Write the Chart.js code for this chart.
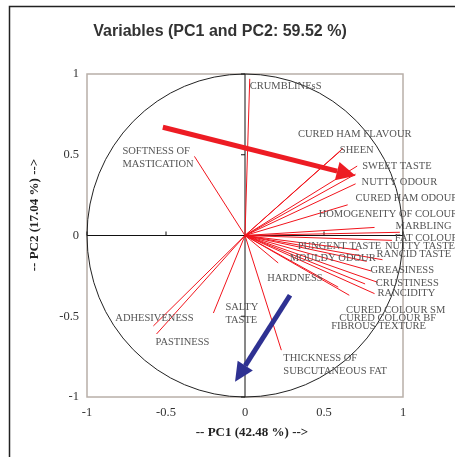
<!DOCTYPE html>
<html>
<head>
<meta charset="utf-8">
<script src="https://cdn.jsdelivr.net/npm/chart.js@4.4.1/dist/chart.umd.min.js"></script>
<style>
  html, body { margin: 0; padding: 0; background: #fff; }
</style>
</head>
<body>
<canvas id="pcaChart" width="455" height="457"></canvas>
<script>
// variables of the correlation circle
const variables = [
  'CRUMBLINEsS', 'SOFTNESS OF\nMASTICATION', 'CURED HAM FLAVOUR', 'SHEEN',
  'SWEET TASTE', 'NUTTY ODOUR', 'CURED HAM ODOUR', 'HOMOGENEITY OF COLOUR',
  'MARBLING', 'FAT COLOUR', 'NUTTY TASTE', 'PUNGENT TASTE', 'RANCID TASTE',
  'MOULDY ODOUR', 'GREASINESS', 'CRUSTINESS', 'RANCIDITY', 'CURED COLOUR SM',
  'CURED COLOUR BF', 'FIBROUS TEXTURE', 'HARDNESS', 'THICKNESS OF\nSUBCUTANEOUS FAT',
  'SALTY\nTASTE', 'ADHESIVENESS', 'PASTINESS'
];
const pc1 = [
  0.03, -0.32, 0.62, 0.60,
  0.71, 0.70, 0.70, 0.65,
  0.82, 0.98, 0.93, 0.72, 0.87,
  0.77, 0.80, 0.84, 0.82, 0.76,
  0.66, 0.59, 0.21, 0.23,
  -0.20, -0.58, -0.56
];
const pc2 = [
  0.97, 0.49, 0.54, 0.52,
  0.43, 0.38, 0.32, 0.19,
  0.05, 0.02, -0.03, -0.09, -0.15,
  -0.16, -0.22, -0.29, -0.36, -0.30,
  -0.37, -0.32, -0.17, -0.71,
  -0.48, -0.56, -0.61
];
const axisTicks = [-1, -0.5, 0, 0.5, 1];

// annotation arrows (PC1, PC2 of start and tip)
const redArrow = [[-0.52, 0.67], [0.70, 0.37]];
const blueArrow = [[0.285, -0.37], [-0.063, -0.905]];

// label placement, pixel offset from the end of each vector
const labelOffset = [
  [0, 7], [-72, -5], [-45, -14], [0, -1],
  [5, 0], [6, 8], [0, 14], [-29, 9],
  [21, -1], [-5, 6], [-7, 6], [-61, -4], [-6, -5],
  [-77, -3], [-1, -1], [-2, 1], [3, 0], [-19, 26],
  [-10, 23], [-7, 39], [-11, 15], [2, 8],
  [12, -6], [-38, -8], [-1, 8]
];

const datasets = variables.map((name, i) => ({
  label: name,
  data: [{ x: 0, y: 0 }, { x: pc1[i], y: pc2[i] }],
  showLine: true,
  borderColor: '#f2141c',
  borderWidth: 1,
  pointRadius: 0,
  clip: false
}));

function drawArrow(ctx, a, b, color, width, headLen, headWidth) {
  const ang = Math.atan2(b[1] - a[1], b[0] - a[0]);
  const bx = b[0] - Math.cos(ang) * headLen;
  const by = b[1] - Math.sin(ang) * headLen;
  ctx.save();
  ctx.strokeStyle = color;
  ctx.fillStyle = color;
  ctx.lineWidth = width;
  ctx.beginPath();
  ctx.moveTo(a[0], a[1]);
  ctx.lineTo(bx, by);
  ctx.stroke();
  ctx.beginPath();
  ctx.moveTo(b[0], b[1]);
  ctx.lineTo(bx + Math.sin(ang) * headWidth / 2, by - Math.cos(ang) * headWidth / 2);
  ctx.lineTo(bx - Math.sin(ang) * headWidth / 2, by + Math.cos(ang) * headWidth / 2);
  ctx.closePath();
  ctx.fill();
  ctx.restore();
}

const decor = {
  id: 'decor',
  beforeDraw(chart) {
    const ctx = chart.ctx;
    const area = chart.chartArea;
    ctx.save();
    ctx.fillStyle = '#fff';
    ctx.fillRect(0, 0, chart.width, chart.height);
    // outer figure border
    ctx.strokeStyle = '#222';
    ctx.lineWidth = 1.5;
    ctx.beginPath();
    ctx.moveTo(9.5, chart.height);
    ctx.lineTo(9.5, 6.5);
    ctx.lineTo(chart.width, 6.5);
    ctx.stroke();
    // plot frame
    ctx.strokeStyle = '#b8afa8';
    ctx.lineWidth = 1.5;
    ctx.strokeRect(area.left, area.top, area.right - area.left, area.bottom - area.top);
    ctx.restore();
  },
  beforeDatasetsDraw(chart) {
    const ctx = chart.ctx;
    const xs = chart.scales.x, ys = chart.scales.y;
    const cx = xs.getPixelForValue(0), cy = ys.getPixelForValue(0);
    ctx.save();
    ctx.strokeStyle = '#111';
    ctx.lineWidth = 1;
    ctx.beginPath();
    ctx.moveTo(xs.getPixelForValue(-1), cy);
    ctx.lineTo(xs.getPixelForValue(1), cy);
    ctx.moveTo(cx, ys.getPixelForValue(-1));
    ctx.lineTo(cx, ys.getPixelForValue(1));
    axisTicks.forEach(t => {
      if (t === 0) return;
      ctx.moveTo(xs.getPixelForValue(t), cy);
      ctx.lineTo(xs.getPixelForValue(t), cy - 4);
      ctx.moveTo(cx, ys.getPixelForValue(t));
      ctx.lineTo(cx - 4, ys.getPixelForValue(t));
    });
    ctx.stroke();
    // correlation circle
    ctx.strokeStyle = '#222';
    ctx.beginPath();
    ctx.ellipse(cx, cy, xs.getPixelForValue(1) - cx, cy - ys.getPixelForValue(1), 0, 0, Math.PI * 2);
    ctx.stroke();
    ctx.restore();
  },
  afterDatasetsDraw(chart) {
    const ctx = chart.ctx;
    const xs = chart.scales.x, ys = chart.scales.y;
    ctx.save();
    ctx.font = '10.5px "Liberation Serif"';
    ctx.fillStyle = '#555';
    ctx.textAlign = 'left';
    ctx.textBaseline = 'middle';
    variables.forEach((name, i) => {
      const px = xs.getPixelForValue(pc1[i]) + labelOffset[i][0];
      const py = ys.getPixelForValue(pc2[i]) + labelOffset[i][1];
      name.split('\n').forEach((line, k) => ctx.fillText(line, px, py + k * 13));
    });
    ctx.restore();

    const toPx = p => [xs.getPixelForValue(p[0]), ys.getPixelForValue(p[1])];
    drawArrow(ctx, toPx(redArrow[0]), toPx(redArrow[1]), '#ed1c24', 5, 19, 19);
    drawArrow(ctx, toPx(blueArrow[0]), toPx(blueArrow[1]), '#2e3192', 5, 19, 18);
  },
  afterDraw(chart) {
    const ctx = chart.ctx;
    ctx.save();
    ctx.fillStyle = '#333';
    ctx.textAlign = 'center';
    ctx.textBaseline = 'middle';
    ctx.font = 'bold 16px "Liberation Sans"';
    ctx.fillText('Variables (PC1 and PC2: 59.52 %)', 220, 32);
    ctx.fillStyle = '#222';
    ctx.font = 'bold 13px "Liberation Serif"';
    ctx.fillText('-- PC1 (42.48 %) -->', 252, 433);
    ctx.translate(35, 215);
    ctx.rotate(-Math.PI / 2);
    ctx.fillText('-- PC2 (17.04 %) -->', 0, 0);
    ctx.restore();
  }
};

const tickFont = { family: 'Liberation Serif', size: 12.5 };

new Chart(document.getElementById('pcaChart'), {
  type: 'scatter',
  data: { datasets },
  options: {
    responsive: false,
    animation: false,
    events: [],
    layout: { padding: { top: 74, right: 52, left: 0, bottom: 0 } },
    plugins: { legend: { display: false }, tooltip: { enabled: false } },
    scales: {
      x: {
        min: -1, max: 1,
        afterFit: s => { s.height = 60; },
        afterBuildTicks: s => { s.ticks = axisTicks.map(v => ({ value: v })); },
        grid: { display: false, drawTicks: false },
        border: { display: false },
        ticks: { padding: 8, color: '#333', font: tickFont, maxRotation: 0, callback: v => String(v) }
      },
      y: {
        min: -1, max: 1,
        afterFit: s => { s.width = 87; },
        afterBuildTicks: s => { s.ticks = axisTicks.map(v => ({ value: v })); },
        grid: { display: false, drawTicks: false },
        border: { display: false },
        ticks: { padding: 8, color: '#333', font: tickFont, callback: v => String(v) }
      }
    }
  },
  plugins: [decor]
});
</script>
</body>
</html>
